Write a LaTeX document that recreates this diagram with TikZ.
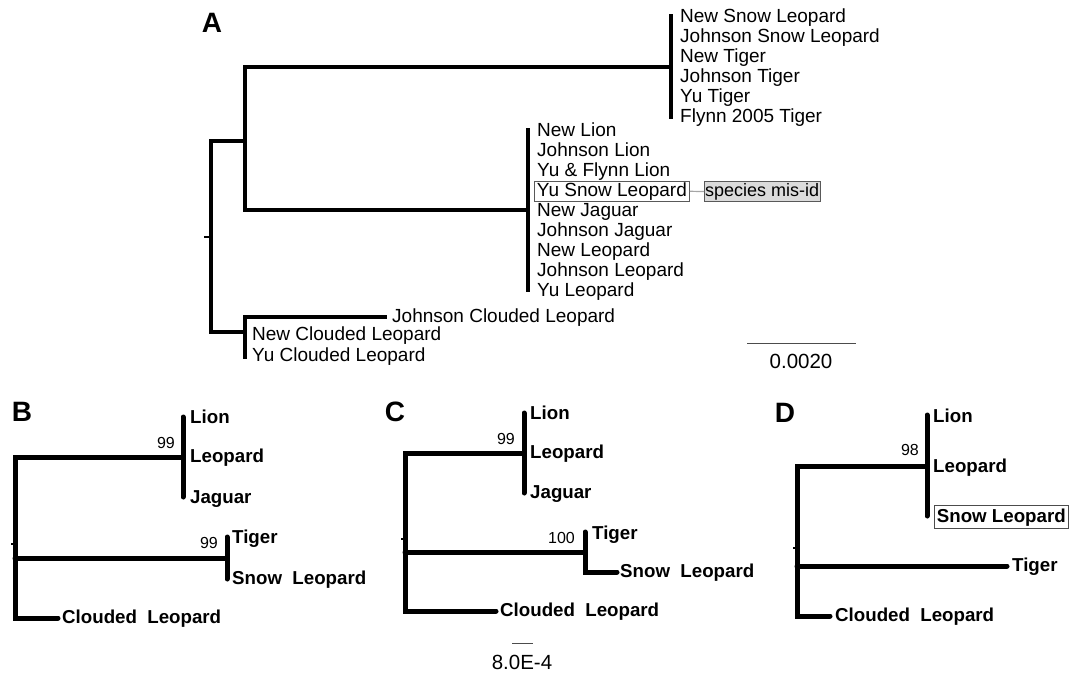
\documentclass[tikz,border=0pt]{standalone}
\usepackage{fontspec}
\setmainfont{Liberation Sans}
\begin{document}
\begin{tikzpicture}[x=1pt,y=-1pt,
  treeA/.style={line width=3.2pt, line join=miter, line cap=rect},
  treeB/.style={line width=5pt, line join=miter, line cap=round},
  labA/.style={anchor=base west, yshift=-0.52em, inner sep=0pt, font=\fontsize{19}{20}\selectfont},
  labB/.style={anchor=base west, yshift=-0.52em, inner sep=0pt, font=\fontsize{18.7}{20}\selectfont\bfseries},
  boot/.style={anchor=base east, yshift=-0.5em, inner sep=0pt, font=\fontsize{16}{18}\selectfont},
  panel/.style={inner sep=0pt, font=\fontsize{28}{30}\selectfont\bfseries},
  scalebar/.style={line width=1pt, draw=black!70},
  scalelab/.style={inner sep=0pt, font=\fontsize{20.5}{22}\selectfont}
]
\useasboundingbox (0,0) rectangle (1071,674);

% ---------------- Panel A ----------------
\node[panel] (pA) at (212,23) {A};
\draw[treeA] (671,67) -- (245,67) -- (245,210) -- (528,210);
\draw[treeA] (245,141) -- (211,141) -- (211,332) -- (245,332);
\draw[treeA] (385,317) -- (245,317) -- (245,357);
\draw[treeA] (671,16) -- (671,117);
\draw[treeA] (528,130) -- (528,290);
\draw[line width=2pt] (204,237) -- (211,237);

\node[labA] (a1) at (680,17) {New Snow Leopard};
\node[labA] (a2) at (680,37) {Johnson Snow Leopard};
\node[labA] (a3) at (680,57) {New Tiger};
\node[labA] (a4) at (680,77) {Johnson Tiger};
\node[labA] (a5) at (680,97) {Yu Tiger};
\node[labA] (a6) at (680,117) {Flynn 2005 Tiger};

\node[labA] (b1) at (537,131) {New Lion};
\node[labA] (b2) at (537,151) {Johnson Lion};
\node[labA] (b3) at (537,171) {Yu \& Flynn Lion};
\node[labA, draw=black!65, line width=0.8pt, inner xsep=2.5pt, inner ysep=1.2pt, xshift=-3pt] (b4) at (537,191) {Yu Snow Leopard};
\node[labA] (b5) at (537,211) {New Jaguar};
\node[labA] (b6) at (537,231) {Johnson Jaguar};
\node[labA] (b7) at (537,251) {New Leopard};
\node[labA] (b8) at (537,271) {Johnson Leopard};
\node[labA] (b9) at (537,291) {Yu Leopard};

\node[labA, font=\fontsize{18}{20}\selectfont, draw=black!65, fill=black!14, line width=0.8pt, inner xsep=0.8pt, inner ysep=1.5pt] (mis) at (704,191) {species mis-id};
\draw[black!35, line width=1.2pt] (b4.east) -- (mis.west);

\node[labA] (c1) at (392,317) {Johnson Clouded Leopard};
\node[labA] (c2) at (252,335) {New Clouded Leopard};
\node[labA] (c3) at (252,356) {Yu Clouded Leopard};

\coordinate (sA1) at (747,343);
\coordinate (sA2) at (856,343);
\draw[scalebar] (sA1) -- (sA2);
\node[scalelab] (sAl) at (801,361) {0.0020};

% ---------------- Panel B ----------------
\node[panel] (pB) at (22,412) {B};
\draw[treeB] (183,457) -- (15,457) -- (15,618) -- (58,618);
\draw[treeB] (15,558) -- (227,558);
\draw[treeB] (183,417) -- (183,497);
\draw[treeB] (227,537) -- (227,579);
\draw[line width=2.5pt] (11,544) -- (15,544);
\node[labB] (B1) at (190,418) {Lion};
\node[labB] (B2) at (190,457) {Leopard};
\node[labB] (B3) at (190,498) {Jaguar};
\node[labB] (B4) at (232,538) {Tiger};
\node[labB] (B5) at (232,579) {Snow\ \ Leopard};
\node[labB] (B6) at (62,618) {Clouded\ \ Leopard};
\node[boot] (Bn1) at (175,443) {99};
\node[boot] (Bn2) at (218,543) {99};

% ---------------- Panel C ----------------
\node[panel] (pC) at (395,412) {C};
\draw[treeB] (524,453) -- (405,453) -- (405,611) -- (496,611);
\draw[treeB] (405,552) -- (585,552);
\draw[treeB] (524,413) -- (524,493);
\draw[treeB] (585,532) -- (585,572) -- (617,572);
\draw[line width=2.5pt] (401,539) -- (405,539);
\node[labB] (C1) at (530,414) {Lion};
\node[labB] (C2) at (530,453) {Leopard};
\node[labB] (C3) at (530,493) {Jaguar};
\node[labB] (C4) at (592,534) {Tiger};
\node[labB] (C5) at (620,572) {Snow\ \ Leopard};
\node[labB] (C6) at (500,611) {Clouded\ \ Leopard};
\node[boot] (Cn1) at (515,439) {99};
\node[boot] (Cn2) at (575,538) {100};
\coordinate (sC1) at (512,643);
\coordinate (sC2) at (533,643);
\draw[scalebar] (sC1) -- (sC2);
\node[scalelab] (sCl) at (522,662) {8.0E-4};

% ---------------- Panel D ----------------
\node[panel] (pD) at (785,413) {D};
\draw[treeB] (927,466) -- (797,466) -- (797,616) -- (830,616);
\draw[treeB] (797,566) -- (1007,566);
\draw[treeB] (927,415) -- (927,516);
\draw[line width=2.5pt] (793,548) -- (797,548);
\node[labB] (D1) at (933,417) {Lion};
\node[labB] (D2) at (933,467) {Leopard};
\node[labB, draw=black!70, line width=0.8pt, inner xsep=2.5pt, inner ysep=2.8pt, xshift=2pt] (D3) at (932,517) {Snow Leopard};
\node[labB] (D4) at (1012,566) {Tiger};
\node[labB] (D5) at (835,616) {Clouded\ \ Leopard};
\node[boot] (Dn1) at (919,450) {98};
\end{tikzpicture}
\end{document}
